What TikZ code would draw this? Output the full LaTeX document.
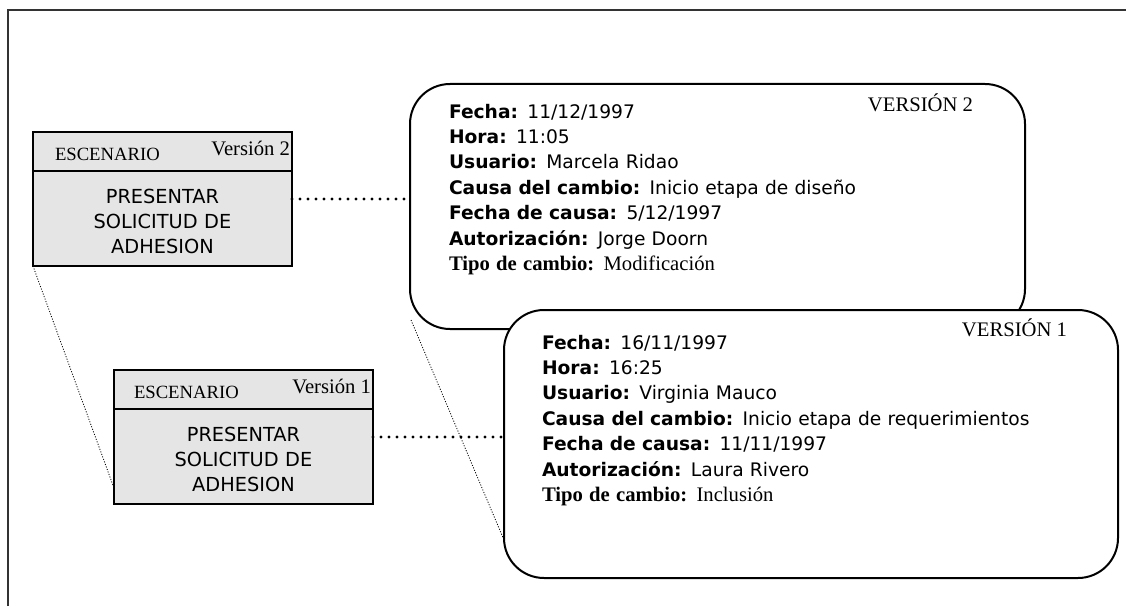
\documentclass[tikz,border=0pt]{standalone}
\usepackage{fontspec}
\setmainfont{Liberation Serif}
\setsansfont{DejaVu Sans}
\usepackage{tikz}

\begin{document}
\begin{tikzpicture}[x=0.75pt, y=-0.75pt, outer sep=0pt,
		esc_style/.style={rectangle,draw=black,line width=1.5pt,fill=black!10,minimum width=194.25pt,minimum height=100.5pt},
		info_style/.style={rectangle,rounded corners=30pt,draw=black,line width=1.5pt,fill=white},
		head_style/.style={inner sep=0pt,font=\fontsize{14}{16}\selectfont},
		ver_style/.style={inner sep=0pt,font=\fontsize{15.5}{18}\selectfont},
		body_style/.style={inner sep=0pt,align=center,text width=180pt,font=\sffamily\fontsize{14.5}{19}\selectfont},
		data_style/.style={inner sep=0pt,align=left,text width=420pt,font=\sffamily\fontsize{14}{19.1}\selectfont},
		link_style/.style={draw=black,line width=2.4pt,line cap=round,dash pattern=on 0pt off 6pt},
		guide_style/.style={draw=black,line width=0.6pt,dash pattern=on 0.8pt off 1.2pt}]

		\useasboundingbox (0,0) rectangle (1126,606);
		\draw[line width=1.5pt,black!80] (8,606) -- (8,10) -- (1126,10);

		% escenarios
		\node[esc_style] (esc2) at (162.5,199) {};
		\draw[line width=1.5pt] ([yshift=-29.25pt]esc2.north west) -- ([yshift=-29.25pt]esc2.north east);
		\node[head_style,anchor=base west] (esc2_head) at (55,160) {ESCENARIO};
		\node[ver_style,anchor=base east] (esc2_ver) at (290,156) {Versión 2};
		\node[body_style,anchor=base] (esc2_body) at (162.5,203) {PRESENTAR\\SOLICITUD DE\\ADHESION};

		\node[esc_style] (esc1) at (243.5,437) {};
		\draw[line width=1.5pt] ([yshift=-29.25pt]esc1.north west) -- ([yshift=-29.25pt]esc1.north east);
		\node[head_style,anchor=base west] (esc1_head) at (134,398) {ESCENARIO};
		\node[ver_style,anchor=base east] (esc1_ver) at (371,393) {Versión 1};
		\node[body_style,anchor=base] (esc1_body) at (243.5,441) {PRESENTAR\\SOLICITUD DE\\ADHESION};

		% versiones
		\node[info_style,minimum width=461.25pt,minimum height=183.75pt] (info2) at (717.5,206.5) {};
		\node[ver_style,anchor=base east] (info2_ver) at (973,112) {VERSIÓN 2};
		\node[data_style,anchor=base west] (info2_data) at (449,118) {%
			\textbf{Fecha:} 11/12/1997\\
			\textbf{Hora:} 11:05\\
			\textbf{Usuario:} Marcela Ridao\\
			\textbf{Causa del cambio:} Inicio etapa de diseño\\
			\textbf{Fecha de causa:} 5/12/1997\\
			\textbf{Autorización:} Jorge Doorn\\
			{\rmfamily\fontsize{15.5}{19.1}\selectfont\textbf{Tipo de cambio:} Modificación}};

		\node[info_style,minimum width=460.5pt,minimum height=201pt] (info1) at (811,444) {};
		\node[ver_style,anchor=base east] (info1_ver) at (1067,336) {VERSIÓN 1};
		\node[data_style,anchor=base west] (info1_data) at (542,349) {%
			\textbf{Fecha:} 16/11/1997\\
			\textbf{Hora:} 16:25\\
			\textbf{Usuario:} Virginia Mauco\\
			\textbf{Causa del cambio:} Inicio etapa de requerimientos\\
			\textbf{Fecha de causa:} 11/11/1997\\
			\textbf{Autorización:} Laura Rivero\\
			{\rmfamily\fontsize{15.5}{19.1}\selectfont\textbf{Tipo de cambio:} Inclusión}};

		\draw[link_style] (esc2.east) -- (esc2.east -| info2.west);
		\draw[link_style] (esc1.east) -- (esc1.east -| info1.west);
		\draw[guide_style] (esc2.south west) -- ([yshift=12pt]esc1.south west);
		\draw[guide_style] ([xshift=0.75pt,yshift=6.75pt]info2.south west) -- ([yshift=28.5pt]info1.south west);

\end{tikzpicture}
\end{document}
